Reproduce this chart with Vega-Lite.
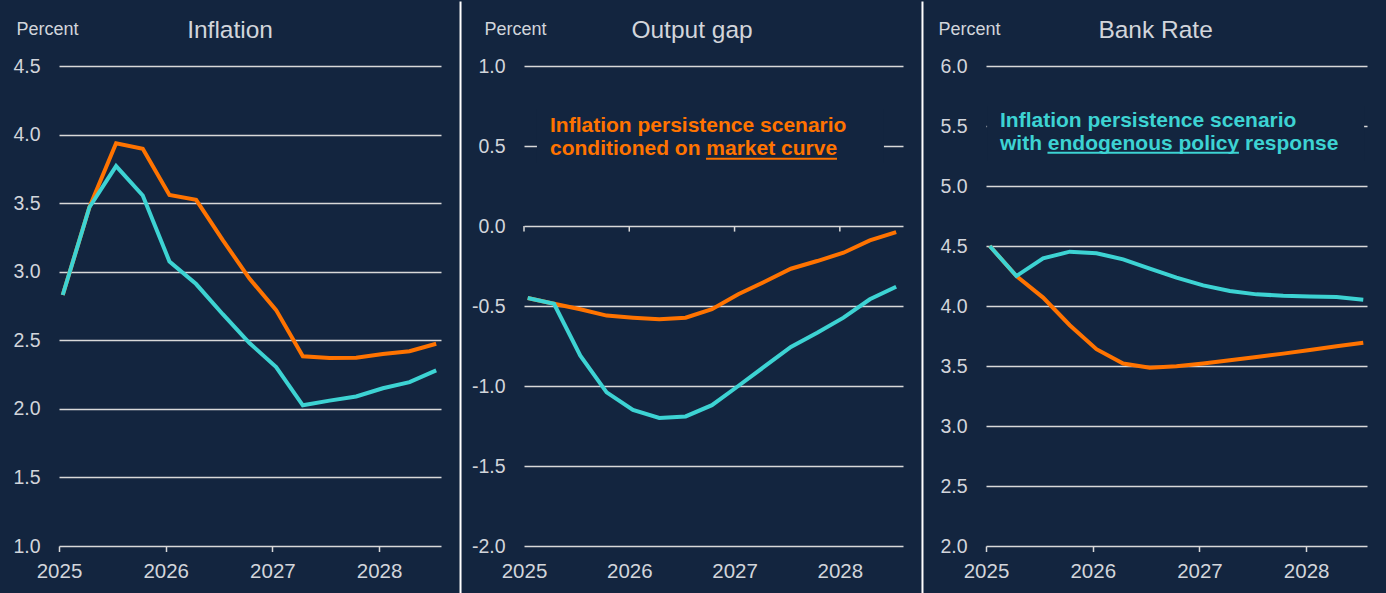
{
  "$schema": "https://vega.github.io/schema/vega-lite/v6.json",
  "background": "#13253f",
  "padding": {"left": 0, "top": 0, "right": 19, "bottom": 0},
  "autosize": {"type": "pad"},
  "spacing": 83,
  "bounds": "flush",
  "config": {"view": {"stroke": null}, "font": "Liberation Sans"},
  "datasets": {
    "inflation": [
      {"t": 2025.035, "s": "market", "v": 2.83}, {"t": 2025.285, "s": "market", "v": 3.47}, {"t": 2025.535, "s": "market", "v": 3.937}, {"t": 2025.785, "s": "market", "v": 3.896}, {"t": 2026.035, "s": "market", "v": 3.56}, {"t": 2026.285, "s": "market", "v": 3.524}, {"t": 2026.535, "s": "market", "v": 3.23}, {"t": 2026.785, "s": "market", "v": 2.95}, {"t": 2027.035, "s": "market", "v": 2.72}, {"t": 2027.285, "s": "market", "v": 2.383}, {"t": 2027.535, "s": "market", "v": 2.37}, {"t": 2027.785, "s": "market", "v": 2.373}, {"t": 2028.035, "s": "market", "v": 2.4}, {"t": 2028.285, "s": "market", "v": 2.42}, {"t": 2028.535, "s": "market", "v": 2.475},
      {"t": 2025.035, "s": "endogenous", "v": 2.83}, {"t": 2025.285, "s": "endogenous", "v": 3.47}, {"t": 2025.535, "s": "endogenous", "v": 3.77}, {"t": 2025.785, "s": "endogenous", "v": 3.556}, {"t": 2026.035, "s": "endogenous", "v": 3.075}, {"t": 2026.285, "s": "endogenous", "v": 2.91}, {"t": 2026.535, "s": "endogenous", "v": 2.69}, {"t": 2026.785, "s": "endogenous", "v": 2.48}, {"t": 2027.035, "s": "endogenous", "v": 2.305}, {"t": 2027.285, "s": "endogenous", "v": 2.026}, {"t": 2027.535, "s": "endogenous", "v": 2.06}, {"t": 2027.785, "s": "endogenous", "v": 2.09}, {"t": 2028.035, "s": "endogenous", "v": 2.15}, {"t": 2028.285, "s": "endogenous", "v": 2.195}, {"t": 2028.535, "s": "endogenous", "v": 2.28}
    ],
    "gap": [
      {"t": 2025.035, "s": "market", "v": -0.45}, {"t": 2025.285, "s": "market", "v": -0.486}, {"t": 2025.535, "s": "market", "v": -0.52}, {"t": 2025.785, "s": "market", "v": -0.56}, {"t": 2026.035, "s": "market", "v": -0.573}, {"t": 2026.285, "s": "market", "v": -0.583}, {"t": 2026.535, "s": "market", "v": -0.573}, {"t": 2026.785, "s": "market", "v": -0.52}, {"t": 2027.035, "s": "market", "v": -0.427}, {"t": 2027.285, "s": "market", "v": -0.348}, {"t": 2027.535, "s": "market", "v": -0.267}, {"t": 2027.785, "s": "market", "v": -0.219}, {"t": 2028.035, "s": "market", "v": -0.167}, {"t": 2028.285, "s": "market", "v": -0.09}, {"t": 2028.535, "s": "market", "v": -0.038},
      {"t": 2025.035, "s": "endogenous", "v": -0.45}, {"t": 2025.285, "s": "endogenous", "v": -0.486}, {"t": 2025.535, "s": "endogenous", "v": -0.81}, {"t": 2025.785, "s": "endogenous", "v": -1.04}, {"t": 2026.035, "s": "endogenous", "v": -1.15}, {"t": 2026.285, "s": "endogenous", "v": -1.2}, {"t": 2026.535, "s": "endogenous", "v": -1.19}, {"t": 2026.785, "s": "endogenous", "v": -1.12}, {"t": 2027.035, "s": "endogenous", "v": -1.0}, {"t": 2027.285, "s": "endogenous", "v": -0.878}, {"t": 2027.535, "s": "endogenous", "v": -0.756}, {"t": 2027.785, "s": "endogenous", "v": -0.667}, {"t": 2028.035, "s": "endogenous", "v": -0.573}, {"t": 2028.285, "s": "endogenous", "v": -0.458}, {"t": 2028.535, "s": "endogenous", "v": -0.38}
    ],
    "bank": [
      {"t": 2025.035, "s": "market", "v": 4.5}, {"t": 2025.285, "s": "market", "v": 4.25}, {"t": 2025.535, "s": "market", "v": 4.07}, {"t": 2025.785, "s": "market", "v": 3.84}, {"t": 2026.035, "s": "market", "v": 3.64}, {"t": 2026.285, "s": "market", "v": 3.52}, {"t": 2026.535, "s": "market", "v": 3.486}, {"t": 2026.785, "s": "market", "v": 3.497}, {"t": 2027.035, "s": "market", "v": 3.52}, {"t": 2027.285, "s": "market", "v": 3.547}, {"t": 2027.535, "s": "market", "v": 3.575}, {"t": 2027.785, "s": "market", "v": 3.603}, {"t": 2028.035, "s": "market", "v": 3.633}, {"t": 2028.285, "s": "market", "v": 3.664}, {"t": 2028.535, "s": "market", "v": 3.694},
      {"t": 2025.035, "s": "endogenous", "v": 4.5}, {"t": 2025.285, "s": "endogenous", "v": 4.25}, {"t": 2025.535, "s": "endogenous", "v": 4.397}, {"t": 2025.785, "s": "endogenous", "v": 4.453}, {"t": 2026.035, "s": "endogenous", "v": 4.44}, {"t": 2026.285, "s": "endogenous", "v": 4.389}, {"t": 2026.535, "s": "endogenous", "v": 4.311}, {"t": 2026.785, "s": "endogenous", "v": 4.236}, {"t": 2027.035, "s": "endogenous", "v": 4.172}, {"t": 2027.285, "s": "endogenous", "v": 4.125}, {"t": 2027.535, "s": "endogenous", "v": 4.097}, {"t": 2027.785, "s": "endogenous", "v": 4.086}, {"t": 2028.035, "s": "endogenous", "v": 4.08}, {"t": 2028.285, "s": "endogenous", "v": 4.075}, {"t": 2028.535, "s": "endogenous", "v": 4.053}
    ],
    "years": [{"t": 2025}, {"t": 2026}, {"t": 2027}, {"t": 2028}],
    "one": [{}]
  },
  "hconcat": [
    {
      "width": 382,
      "height": 480,
      "data": {"name": "one"},
      "layer": [
        {
          "data": {"name": "inflation"},
          "transform": [{"filter": "datum.s === 'market'"}],
          "mark": {"type": "line", "color": "#ff7300", "strokeWidth": 4, "clip": false},
          "encoding": {
            "x": {"field": "t", "type": "quantitative", "scale": {"domain": [2025, 2028.58], "nice": false, "zero": false},
              "axis": {"title": null, "values": [2025, 2026, 2027, 2028], "format": "d", "labelFontSize": 20.5, "labelColor": "#d2d5db", "labelPadding": 10, "labelFlush": false, "labelOverlap": false, "labelDx": 4.5, "ticks": true, "tickSize": 5.5, "tickColor": "#d9d9d9", "tickWidth": 1.5, "domain": false, "grid": false}},
            "y": {"field": "v", "type": "quantitative", "scale": {"domain": [1, 4.5], "nice": false, "zero": false},
              "axis": {"title": "Percent", "titleAngle": 0, "titleAlign": "left", "titleBaseline": "alphabetic", "titleX": -43, "titleY": -31.7, "titleFontSize": 18, "titleFontWeight": "normal", "titleColor": "#d2d5db", "values": [1, 1.5, 2, 2.5, 3, 3.5, 4, 4.5], "labelExpr": "replace(format(datum.value, '.1f'), '\u2212', '-')", "labelFontSize": 19.5, "labelColor": "#d2d5db", "labelPadding": 19, "ticks": false, "tickSize": 0, "domain": false, "grid": true, "gridColor": "#d9d9d9", "gridWidth": 1.5, "minExtent": 59, "maxExtent": 59}}
          }
        },
        {
          "data": {"name": "inflation"},
          "transform": [{"filter": "datum.s === 'endogenous'"}],
          "mark": {"type": "line", "color": "#3dd3d3", "strokeWidth": 4, "clip": false},
          "encoding": {
            "x": {"field": "t", "type": "quantitative", "scale": {"domain": [2025, 2028.58], "nice": false, "zero": false}},
            "y": {"field": "v", "type": "quantitative", "scale": {"domain": [1, 4.5], "nice": false, "zero": false}}
          }
        },
        {
          "mark": {"type": "text", "align": "center", "baseline": "alphabetic", "fontSize": 24.5, "color": "#d2d5db", "clip": false},
          "encoding": {
            "x": {"datum": 2026.603, "type": "quantitative", "scale": {"domain": [2025, 2028.58], "nice": false, "zero": false}},
            "y": {"datum": 4.706, "type": "quantitative", "scale": {"domain": [1, 4.5], "nice": false, "zero": false}},
            "text": {"value": "Inflation"}
          }
        },
        {
          "mark": {"type": "rule", "color": "#ffffff", "strokeWidth": 2, "clip": false},
          "encoding": {
            "x": {"datum": 2028.763, "type": "quantitative", "scale": {"domain": [2025, 2028.58], "nice": false, "zero": false}},
            "y": {"datum": 4.97, "type": "quantitative", "scale": {"domain": [1, 4.5], "nice": false, "zero": false}},
            "y2": {"datum": 0.65}
          }
        }
      ]
    },
    {
      "width": 379,
      "height": 480,
      "data": {"name": "one"},
      "layer": [
        {
          "mark": {"type": "rect", "color": "#13253f", "opacity": 1, "clip": false},
          "encoding": {
            "x": {"datum": 2025.123, "type": "quantitative", "scale": {"domain": [2025, 2028.6], "nice": false, "zero": false},
              "axis": {"title": null, "values": [2025, 2026, 2027, 2028], "format": "d", "labelFontSize": 20.5, "labelColor": "#d2d5db", "labelPadding": 10, "labelFlush": false, "labelOverlap": false, "labelDx": 4.5, "ticks": true, "tickSize": 5.5, "tickOpacity": 0, "domain": false, "grid": false}},
            "x2": {"datum": 2028.419},
            "y": {"datum": 0.731, "type": "quantitative", "scale": {"domain": [-2, 1], "nice": false, "zero": false},
              "axis": {"title": "Percent", "titleAngle": 0, "titleAlign": "left", "titleBaseline": "alphabetic", "titleX": -40, "titleY": -31.7, "titleFontSize": 18, "titleFontWeight": "normal", "titleColor": "#d2d5db", "values": [-2, -1.5, -1, -0.5, 0, 0.5, 1], "labelExpr": "replace(format(datum.value, '.1f'), '\u2212', '-')", "labelFontSize": 19.5, "labelColor": "#d2d5db", "labelPadding": 19, "ticks": false, "tickSize": 0, "domain": false, "grid": true, "gridColor": "#d9d9d9", "gridWidth": 1.5}},
            "y2": {"datum": 0.394}
          }
        },
        {
          "data": {"name": "years"},
          "mark": {"type": "rule", "color": "#d9d9d9", "strokeWidth": 1.5, "clip": false},
          "encoding": {
            "x": {"field": "t", "type": "quantitative", "scale": {"domain": [2025, 2028.6], "nice": false, "zero": false}},
            "y": {"datum": 0, "type": "quantitative", "scale": {"domain": [-2, 1], "nice": false, "zero": false}},
            "y2": {"datum": -0.035}
          }
        },
        {
          "data": {"name": "gap"},
          "transform": [{"filter": "datum.s === 'market'"}],
          "mark": {"type": "line", "color": "#ff7300", "strokeWidth": 4, "clip": false},
          "encoding": {
            "x": {"field": "t", "type": "quantitative", "scale": {"domain": [2025, 2028.6], "nice": false, "zero": false}},
            "y": {"field": "v", "type": "quantitative", "scale": {"domain": [-2, 1], "nice": false, "zero": false}}
          }
        },
        {
          "data": {"name": "gap"},
          "transform": [{"filter": "datum.s === 'endogenous'"}],
          "mark": {"type": "line", "color": "#3dd3d3", "strokeWidth": 4, "clip": false},
          "encoding": {
            "x": {"field": "t", "type": "quantitative", "scale": {"domain": [2025, 2028.6], "nice": false, "zero": false}},
            "y": {"field": "v", "type": "quantitative", "scale": {"domain": [-2, 1], "nice": false, "zero": false}}
          }
        },
        {
          "mark": {"type": "text", "align": "left", "baseline": "alphabetic", "fontSize": 21, "fontWeight": "bold", "color": "#ff7300", "clip": false},
          "encoding": {
            "x": {"datum": 2025.247, "type": "quantitative", "scale": {"domain": [2025, 2028.6], "nice": false, "zero": false}},
            "y": {"datum": 0.589, "type": "quantitative", "scale": {"domain": [-2, 1], "nice": false, "zero": false}},
            "text": {"value": "Inflation persistence scenario"}
          }
        },
        {
          "mark": {"type": "text", "align": "left", "baseline": "alphabetic", "fontSize": 21, "fontWeight": "bold", "color": "#ff7300", "clip": false},
          "encoding": {
            "x": {"datum": 2025.247, "type": "quantitative", "scale": {"domain": [2025, 2028.6], "nice": false, "zero": false}},
            "y": {"datum": 0.444, "type": "quantitative", "scale": {"domain": [-2, 1], "nice": false, "zero": false}},
            "text": {"value": "conditioned on market curve"}
          }
        },
        {
          "mark": {"type": "rule", "color": "#ff7300", "strokeWidth": 2, "clip": false},
          "encoding": {
            "x": {"datum": 2026.729, "type": "quantitative", "scale": {"domain": [2025, 2028.6], "nice": false, "zero": false}},
            "x2": {"datum": 2027.973},
            "y": {"datum": 0.4206, "type": "quantitative", "scale": {"domain": [-2, 1], "nice": false, "zero": false}}
          }
        },
        {
          "mark": {"type": "text", "align": "center", "baseline": "alphabetic", "fontSize": 24.5, "color": "#d2d5db", "clip": false},
          "encoding": {
            "x": {"datum": 2026.596, "type": "quantitative", "scale": {"domain": [2025, 2028.6], "nice": false, "zero": false}},
            "y": {"datum": 1.177, "type": "quantitative", "scale": {"domain": [-2, 1], "nice": false, "zero": false}},
            "text": {"value": "Output gap"}
          }
        },
        {
          "mark": {"type": "rule", "color": "#ffffff", "strokeWidth": 2, "clip": false},
          "encoding": {
            "x": {"datum": 2028.785, "type": "quantitative", "scale": {"domain": [2025, 2028.6], "nice": false, "zero": false}},
            "y": {"datum": 1.403, "type": "quantitative", "scale": {"domain": [-2, 1], "nice": false, "zero": false}},
            "y2": {"datum": -2.3}
          }
        }
      ]
    },
    {
      "width": 381,
      "height": 480,
      "data": {"name": "one"},
      "layer": [
        {
          "mark": {"type": "rect", "color": "#13253f", "opacity": 1, "clip": false},
          "encoding": {
            "x": {"datum": 2025.01, "type": "quantitative", "scale": {"domain": [2025, 2028.57], "nice": false, "zero": false},
              "axis": {"title": null, "values": [2025, 2026, 2027, 2028], "format": "d", "labelFontSize": 20.5, "labelColor": "#d2d5db", "labelPadding": 10, "labelFlush": false, "labelOverlap": false, "labelDx": 4.5, "ticks": true, "tickSize": 5.5, "tickColor": "#d9d9d9", "tickWidth": 1.5, "domain": false, "grid": false}},
            "x2": {"datum": 2028.543},
            "y": {"datum": 5.667, "type": "quantitative", "scale": {"domain": [2, 6], "nice": false, "zero": false},
              "axis": {"title": "Percent", "titleAngle": 0, "titleAlign": "left", "titleBaseline": "alphabetic", "titleX": -48, "titleY": -31.7, "titleFontSize": 18, "titleFontWeight": "normal", "titleColor": "#d2d5db", "values": [2, 2.5, 3, 3.5, 4, 4.5, 5, 5.5, 6], "labelExpr": "replace(format(datum.value, '.1f'), '\u2212', '-')", "labelFontSize": 19.5, "labelColor": "#d2d5db", "labelPadding": 19, "ticks": false, "tickSize": 0, "domain": false, "grid": true, "gridColor": "#d9d9d9", "gridWidth": 1.5}},
            "y2": {"datum": 5.208}
          }
        },
        {
          "data": {"name": "bank"},
          "transform": [{"filter": "datum.s === 'market'"}],
          "mark": {"type": "line", "color": "#ff7300", "strokeWidth": 4, "clip": false},
          "encoding": {
            "x": {"field": "t", "type": "quantitative", "scale": {"domain": [2025, 2028.57], "nice": false, "zero": false}},
            "y": {"field": "v", "type": "quantitative", "scale": {"domain": [2, 6], "nice": false, "zero": false}}
          }
        },
        {
          "data": {"name": "bank"},
          "transform": [{"filter": "datum.s === 'endogenous'"}],
          "mark": {"type": "line", "color": "#3dd3d3", "strokeWidth": 4, "clip": false},
          "encoding": {
            "x": {"field": "t", "type": "quantitative", "scale": {"domain": [2025, 2028.57], "nice": false, "zero": false}},
            "y": {"field": "v", "type": "quantitative", "scale": {"domain": [2, 6], "nice": false, "zero": false}}
          }
        },
        {
          "mark": {"type": "text", "align": "left", "baseline": "alphabetic", "fontSize": 21, "fontWeight": "bold", "color": "#3dd3d3", "clip": false},
          "encoding": {
            "x": {"datum": 2025.131, "type": "quantitative", "scale": {"domain": [2025, 2028.57], "nice": false, "zero": false}},
            "y": {"datum": 5.492, "type": "quantitative", "scale": {"domain": [2, 6], "nice": false, "zero": false}},
            "text": {"value": "Inflation persistence scenario"}
          }
        },
        {
          "mark": {"type": "text", "align": "left", "baseline": "alphabetic", "fontSize": 21, "fontWeight": "bold", "color": "#3dd3d3", "clip": false},
          "encoding": {
            "x": {"datum": 2025.131, "type": "quantitative", "scale": {"domain": [2025, 2028.57], "nice": false, "zero": false}},
            "y": {"datum": 5.2975, "type": "quantitative", "scale": {"domain": [2, 6], "nice": false, "zero": false}},
            "text": {"value": "with endogenous policy response"}
          }
        },
        {
          "mark": {"type": "rule", "color": "#3dd3d3", "strokeWidth": 2, "clip": false},
          "encoding": {
            "x": {"datum": 2025.576, "type": "quantitative", "scale": {"domain": [2025, 2028.57], "nice": false, "zero": false}},
            "x2": {"datum": 2027.37},
            "y": {"datum": 5.2775, "type": "quantitative", "scale": {"domain": [2, 6], "nice": false, "zero": false}}
          }
        },
        {
          "mark": {"type": "text", "align": "center", "baseline": "alphabetic", "fontSize": 24.5, "color": "#d2d5db", "clip": false},
          "encoding": {
            "x": {"datum": 2026.589, "type": "quantitative", "scale": {"domain": [2025, 2028.57], "nice": false, "zero": false}},
            "y": {"datum": 6.236, "type": "quantitative", "scale": {"domain": [2, 6], "nice": false, "zero": false}},
            "text": {"value": "Bank Rate"}
          }
        }
      ]
    }
  ]
}
